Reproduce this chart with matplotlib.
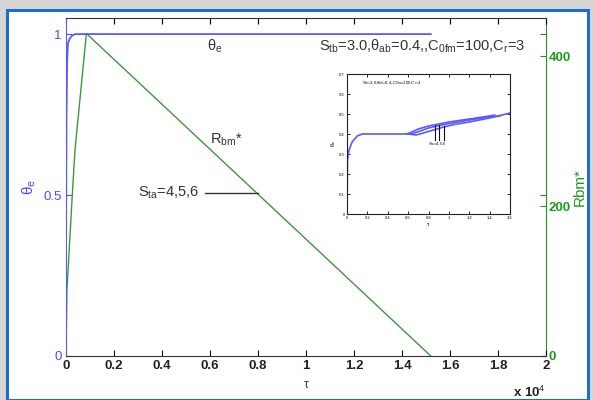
import matplotlib
matplotlib.use("Agg")
import matplotlib.pyplot as plt
from matplotlib.patches import Rectangle
import numpy as np

plt.rcParams['font.family'] = ['Liberation Sans', 'DejaVu Sans']
plt.rcParams['mathtext.fontset'] = 'custom'
plt.rcParams['mathtext.rm'] = 'Liberation Sans'
plt.rcParams['mathtext.it'] = 'Liberation Sans'

# ---- data (main plot) ----
tau_theta = [0, 5, 20, 50, 83, 150, 237, 375, 15200]
theta_e = [0.22, 0.45, 0.75, 0.92, 0.972, 0.985, 0.994, 1.0, 1.0]

tau_rbm = [0, 40, 250, 375, 850, 15200]
rbm = [0, 88, 208, 275, 430, 0]

x_ticks = [0, 0.2, 0.4, 0.6, 0.8, 1, 1.2, 1.4, 1.6, 1.8, 2]
x_ticklabels = ['0', '0.2', '0.4', '0.6', '0.8', '1', '1.2', '1.4', '1.6', '1.8', '2']
left_ticks = [0, 0.5, 1]
left_ticklabels = ['0', '0.5', '1']
right_ticks = [0, 200, 400]
right_ticklabels = ['0', '200', '400']

# ---- data (inset) ----
ins_tau_base = [0, 0.005, 0.02, 0.05, 0.1, 0.15, 0.59]
ins_theta_base = [0.0, 0.27, 0.32, 0.36, 0.39, 0.40, 0.40]
ins_tau_a = [0.59, 0.7, 0.8, 0.9, 1.0, 1.2, 1.4, 1.45]
ins_theta_a = [0.40, 0.425, 0.44, 0.45, 0.46, 0.475, 0.49, 0.495]
ins_tau_b = [0.59, 0.63, 0.72, 0.8, 0.9, 1.0, 1.2, 1.4, 1.5]
ins_theta_b = [0.40, 0.40, 0.415, 0.43, 0.442, 0.452, 0.47, 0.485, 0.49]
ins_tau_c = [0.59, 0.68, 0.75, 0.85, 0.95, 1.05, 1.2, 1.4, 1.6]
ins_theta_c = [0.40, 0.395, 0.405, 0.42, 0.435, 0.447, 0.46, 0.48, 0.505]
ins_x_ticks = [0, 0.2, 0.4, 0.6, 0.8, 1, 1.2, 1.4, 1.6]
ins_y_ticks = [0, 0.1, 0.2, 0.3, 0.4, 0.5, 0.6, 0.7]

BLUE = '#5a5aff'
TICKBLUE = '#4a4aff'
GREEN = '#3a9a3a'
AXGREEN = '#1f9a1f'

W, H = 593, 400
fig = plt.figure(figsize=(W / 100, H / 100), dpi=100)
fig.patch.set_facecolor('#d6d6d6')
# window frame
fig.patches.append(Rectangle((7 / W, 0), (588 - 7) / W, (H - 10) / H,
                             transform=fig.transFigure, facecolor='white',
                             edgecolor='#1a6fd0', linewidth=2.2, zorder=-10))

def fx(px):
    return px / W

def fy(py):
    return 1 - py / H

ax = fig.add_axes([fx(66), fy(356), fx(546) - fx(66), fy(18) - fy(356)])
ax2 = ax.twinx()

ax.plot(np.array(tau_theta) / 1e4, theta_e, color=BLUE, lw=1.3, zorder=3)
ax2.plot(np.array(tau_rbm) / 1e4, rbm, color=GREEN, lw=1.0)
ax.set_zorder(ax2.get_zorder() + 1)
ax.patch.set_visible(False)
ax2.patch.set_visible(False)

ax.set_xlim(0, 2)
ax.set_ylim(0, 1.05)
ax2.set_ylim(0, 450.7)

ax.set_xticks(x_ticks)
ax.set_xticklabels(x_ticklabels, fontsize=9.5, fontweight='bold', color='#222222')
ax.set_yticks(left_ticks)
ax.set_yticklabels(left_ticklabels, fontsize=9.5, color=TICKBLUE)
ax2.set_yticks(right_ticks)
ax2.set_yticklabels(right_ticklabels, fontsize=9.5, fontweight='bold', color=AXGREEN)

ax.tick_params(axis='x', direction='in', length=4, top=True, width=0.8, pad=3)
ax.tick_params(axis='y', direction='in', length=4, right=True, color=TICKBLUE, pad=3)
ax2.tick_params(axis='y', direction='in', length=4, color=AXGREEN, pad=2)

for s in ['top', 'bottom']:
    ax.spines[s].set_color('#333333')
    ax2.spines[s].set_visible(False)
ax.spines['left'].set_color(BLUE)
ax.spines['right'].set_visible(False)
ax2.spines['right'].set_color(AXGREEN)
ax2.spines['left'].set_visible(False)

ax.set_xlabel(r'$\tau$', fontsize=9, color='#444444', labelpad=5)
ax.set_ylabel(r'$\theta_e$', fontsize=11, color=TICKBLUE, labelpad=4)
ax2.set_ylabel('Rbm*', fontsize=11, color=AXGREEN, labelpad=1)

fig.text(fx(513), fy(392), r'x 10$^{4}$', fontsize=9.5, fontweight='bold',
         color='#222222', va='center')

# annotations in main plot
fig.text(fx(207), fy(46), r'$\theta_e$', fontsize=10.5, color='#333333', va='center')
fig.text(fx(210), fy(140), r'R$_{bm}$*', fontsize=10.5, color='#333333', va='center')
fig.text(fx(138), fy(193), r'S$_{ta}$=4,5,6', fontsize=10.5, color='#333333', va='center')
fig.add_artist(plt.Line2D([fx(205), fx(258)], [fy(193), fy(193)],
                          transform=fig.transFigure, color='#333333', lw=1.0))
fig.text(fx(319), fy(46), r'S$_{tb}$=3.0,$\theta_{ab}$=0.4,,C$_{0fm}$=100,C$_{r}$=3',
         fontsize=10.5, color='#333333', va='center')

# ---- inset ----
axi = fig.add_axes([fx(347), fy(214), fx(510) - fx(347), fy(74) - fy(214)])
axi.set_zorder(5)
for xs, ys in [(ins_tau_base, ins_theta_base), (ins_tau_a, ins_theta_a),
               (ins_tau_b, ins_theta_b), (ins_tau_c, ins_theta_c)]:
    axi.plot(xs, ys, color=BLUE, lw=1.2)
axi.set_xlim(0, 1.6)
axi.set_ylim(0, 0.7)
axi.set_xticks(ins_x_ticks)
axi.set_xticklabels([f'{v:g}' for v in ins_x_ticks], fontsize=3)
axi.set_yticks(ins_y_ticks)
axi.set_yticklabels([f'{v:g}' for v in ins_y_ticks], fontsize=3)
axi.tick_params(direction='in', length=2, top=True, right=True, width=0.6, pad=1.5)
for s in axi.spines.values():
    s.set_linewidth(0.8)
    s.set_color('#222222')
axi.set_xlabel(r'$\tau$', fontsize=4, labelpad=1)
axi.set_ylabel(r'$\theta_e$', fontsize=4, labelpad=1)
axi.text(0.15, 0.655, r'S$_{tb}$=3.0,$\theta_{ab}$=0.4,,C$_{0fm}$=100,C$_{r}$=3',
         fontsize=3, va='center')
for xv, yv in [(0.86, 0.447), (0.90, 0.445), (0.95, 0.44)]:
    axi.plot([xv, xv], [0.37, yv], color='#111111', lw=0.8)
axi.text(0.80, 0.35, r'S$_{ta}$=4,5,6', fontsize=3, va='center')

fig.savefig('out.png', dpi=100, facecolor=fig.get_facecolor())
